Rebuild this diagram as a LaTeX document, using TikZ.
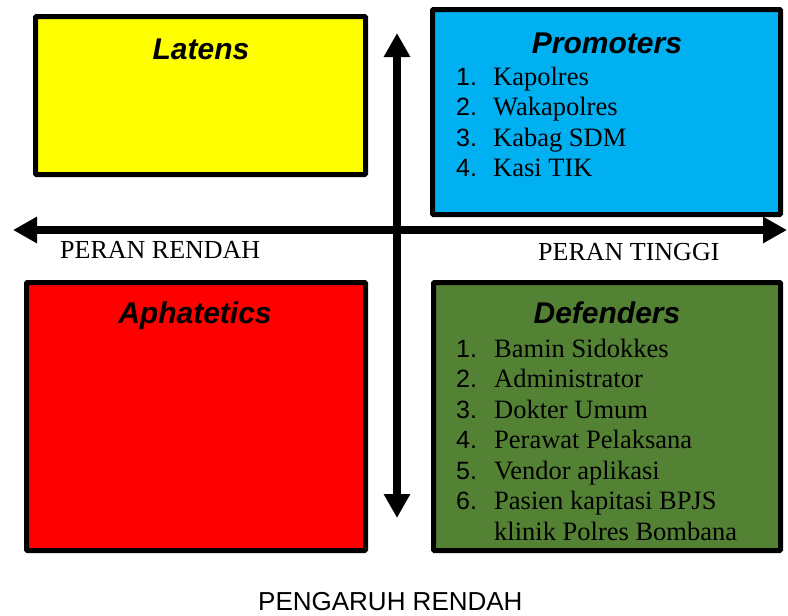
\documentclass[tikz,border=0pt]{standalone}
\usepackage{fontspec}
\setmainfont{Liberation Serif}
\newfontfamily\arialf{Liberation Sans}
\usetikzlibrary{arrows.meta}
\definecolor{cyel}{HTML}{FFFF00}
\definecolor{cblue}{HTML}{00B0F0}
\definecolor{cred}{HTML}{FF0000}
\definecolor{cgreen}{HTML}{548235}
\tikzset{
  quad/.style={draw=black, line width=5pt, rounded corners=1pt, inner sep=0pt},
  ttl/.style={anchor=base, inner sep=0pt, font=\arialf\bfseries\itshape\fontsize{30}{34}\selectfont},
  num/.style={anchor=base west, inner sep=0pt, font=\arialf\fontsize{25}{30}\selectfont},
  itm/.style={anchor=base west, inner sep=0pt, font=\fontsize{26.5}{30}\selectfont},
  axl/.style={anchor=base west, inner sep=0pt, font=\fontsize{26}{30}\selectfont},
  axis/.style={line width=8pt, {Triangle[length=24pt,width=25pt]}-{Triangle[length=24pt,width=25pt]}}
}
\begin{document}
\begin{tikzpicture}[x=1pt,y=-1pt]
\useasboundingbox (0,0) rectangle (788,616);
% boxes
\node[quad, fill=cyel, minimum width=330pt, minimum height=158pt] (latens) at (200.5,95.5) {};
\node[quad, fill=cblue, minimum width=348pt, minimum height=205pt] (promo) at (606.5,112) {};
\node[quad, fill=cred, minimum width=339pt, minimum height=268pt] (apha) at (196,416.5) {};
\node[quad, fill=cgreen, minimum width=347pt, minimum height=268pt] (defe) at (607,416.5) {};
% titles
\node[ttl] (tlat) at (201,59) {Latens};
\node[ttl] (tpro) at (607,53) {Promoters};
\node[ttl] (tapa) at (195,323) {Aphatetics};
\node[ttl] (tdef) at (607,323) {Defenders};
% promoters list
\node[num] (pn1) at (456,85) {1.};  \node[itm] (pi1) at (493,85) {Kapolres};
\node[num] (pn2) at (456,115.5) {2.}; \node[itm] (pi2) at (493,115.5) {Wakapolres};
\node[num] (pn3) at (456,146) {3.}; \node[itm] (pi3) at (493,146) {Kabag SDM};
\node[num] (pn4) at (456,176.5) {4.}; \node[itm] (pi4) at (493,176.5) {Kasi TIK};
% defenders list
\node[num] (dn1) at (456,357) {1.}; \node[itm] (di1) at (494,357) {Bamin Sidokkes};
\node[num] (dn2) at (456,387.5) {2.}; \node[itm] (di2) at (494,387.5) {Administrator};
\node[num] (dn3) at (456,418) {3.}; \node[itm] (di3) at (494,418) {Dokter Umum};
\node[num] (dn4) at (456,448.5) {4.}; \node[itm] (di4) at (494,448.5) {Perawat Pelaksana};
\node[num] (dn5) at (456,479) {5.}; \node[itm] (di5) at (494,479) {Vendor aplikasi};
\node[num] (dn6) at (456,509.5) {6.}; \node[itm] (di6) at (494,509.5) {Pasien kapitasi BPJS};
\node[itm] (di7) at (494,540) {klinik Polres Bombana};
% axes
\coordinate (hl) at (13,230);
\coordinate (hr) at (787,230);
\coordinate (vt) at (397,33);
\coordinate (vb) at (397,518);
\draw[axis] (hl) -- (hr);
\draw[axis] (vt) -- (vb);
% axis labels
\node[axl] (prr) at (60,258) {PERAN RENDAH};
\node[axl] (prt) at (538,260) {PERAN TINGGI};
\node[anchor=base west, inner sep=0pt, font=\arialf\fontsize{26}{30}\selectfont] (pgr) at (258,610) {PENGARUH RENDAH};
\end{tikzpicture}
\end{document}
